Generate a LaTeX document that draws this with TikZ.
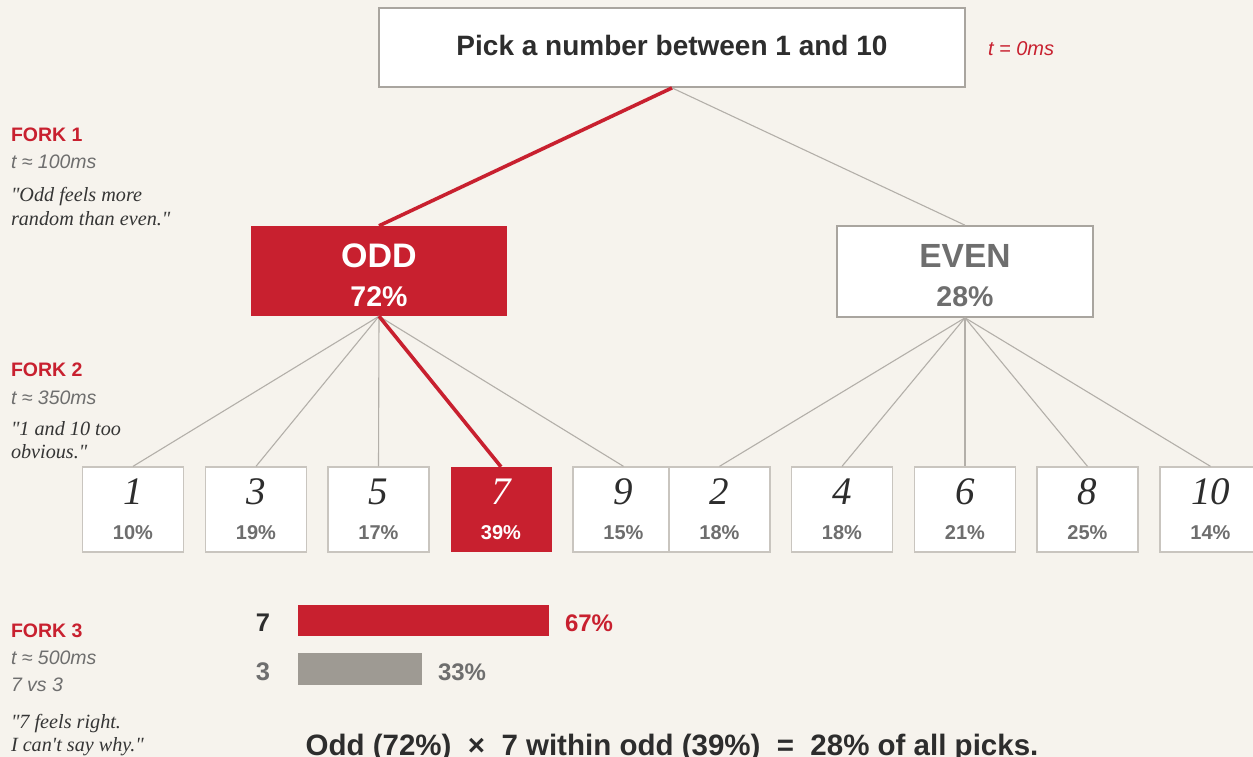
\documentclass[tikz,border=0pt]{standalone}
\usepackage{fontspec}
\setmainfont{Liberation Sans}
\newfontfamily\tnr{Liberation Serif}
\definecolor{bg}{HTML}{F6F3ED}
\definecolor{brand}{HTML}{C8202F}
\definecolor{boxline}{HTML}{A9A59F}
\definecolor{leafline}{HTML}{C9C5BF}
\definecolor{conn}{HTML}{B3AFA9}
\definecolor{graytxt}{HTML}{6E6E6E}
\definecolor{darktxt}{HTML}{2D2D2D}
\definecolor{quotetxt}{HTML}{353535}
\definecolor{bargray}{HTML}{9E9A93}
\newcommand{\fs}[1]{\fontsize{#1}{#1}\selectfont}
\begin{document}
\begin{tikzpicture}[x=1pt,y=-1pt,
  txt/.style={inner sep=0pt, outer sep=0pt, anchor=base},
  ltxt/.style={inner sep=0pt, outer sep=0pt, anchor=base west},
  forklbl/.style={ltxt, text=brand, font=\fs{19.5}\bfseries},
  timelbl/.style={ltxt, text=graytxt, font=\fs{19.5}\itshape},
  quotelbl/.style={ltxt, text=quotetxt, font=\tnr\fs{20.2}\itshape},
  leaf/.style={draw=leafline, line width=1.3pt, fill=white, minimum width=101pt, minimum height=85pt, inner sep=0pt},
  leafred/.style={fill=brand, draw=none, minimum width=101pt, minimum height=85pt, inner sep=0pt},
  digit/.style={txt, font=\tnr\fs{39}\itshape, text=darktxt},
  pct/.style={txt, font=\fs{20}\bfseries, text=graytxt},
  graylink/.style={draw=conn, line width=1.1pt},
  redlink/.style={draw=brand, line width=3.6pt},
]
\useasboundingbox (0,0) rectangle (1253,757);
\fill[bg] (0,0) rectangle (1253,757);

% top box
\node[draw=boxline, line width=1.8pt, fill=white, minimum width=586pt, minimum height=79pt, inner sep=0pt] (top) at (672,47.5) {};
\node[txt, font=\fs{28}\bfseries, text=darktxt] (toptxt) at (672,56) {Pick a number between 1 and 10};
\node[ltxt, font=\fs{20}\itshape, text=brand] (t0) at (988,56) {t = 0ms};

% odd / even
\node[fill=brand, minimum width=256pt, minimum height=90pt, inner sep=0pt] (odd) at (379,271) {};
\node[txt, font=\fs{34}\bfseries, text=white] (oddtxt) at (379,267.7) {ODD};
\node[txt, font=\fs{28.5}\bfseries, text=white] (oddpct) at (379,306.7) {72\%};
\node[draw=boxline, line width=1.6pt, fill=white, minimum width=256pt, minimum height=91pt, inner sep=0pt] (even) at (965,271.5) {};
\node[txt, font=\fs{33.5}\bfseries, text=graytxt] (eventxt) at (965,267.7) {EVEN};
\node[txt, font=\fs{28.5}\bfseries, text=graytxt] (evenpct) at (965,306.7) {28\%};

% leaves
\node[leaf] (l1) at (133,509.5) {};
\node[leaf] (l3) at (256,509.5) {};
\node[leaf] (l5) at (378.5,509.5) {};
\node[leafred] (l7) at (501,509.5) {};
\node[leaf] (l9) at (623.5,509.5) {};
\node[leaf] (l2) at (719.5,509.5) {};
\node[leaf] (l4) at (842,509.5) {};
\node[leaf] (l6) at (965,509.5) {};
\node[leaf] (l8) at (1087.5,509.5) {};
\node[leaf] (l10) at (1210.5,509.5) {};

\foreach \n/\x/\p in {1/133/10,3/256/19,5/378.5/17,9/623.5/15,2/719.5/18,4/842/18,6/965/21,8/1087.5/25,10/1210.5/14}{
  \node[digit] (d\n) at (\x,504.3) {\n};
  \node[pct] (p\n) at (\x,539.3) {\p\%};
}
\node[digit, text=white] (d7) at (501,504.3) {7};
\node[pct, text=white] (p7) at (501,539.3) {39\%};

% connectors
\draw[graylink] (top.south) -- (even.north);
\draw[redlink] (top.south) -- (odd.north);
\foreach \t in {l1,l3,l5,l9}{ \draw[graylink] (odd.south) -- (\t.north); }
\draw[redlink] (odd.south) -- (l7.north);
\foreach \t in {l2,l4,l6,l8,l10}{ \draw[graylink] (even.south) -- (\t.north); }

% bars
\node[fill=brand, minimum width=251pt, minimum height=31pt, inner sep=0pt, anchor=north west] (bar7) at (298,605) {};
\node[fill=bargray, minimum width=124pt, minimum height=32pt, inner sep=0pt, anchor=north west] (bar3) at (298,653) {};
\node[txt, font=\fs{25.5}\bfseries, text=darktxt] (b7lbl) at (263,631.7) {7};
\node[txt, font=\fs{25.5}\bfseries, text=graytxt] (b3lbl) at (263,680) {3};
\node[ltxt, font=\fs{24}\bfseries, text=brand] (b7pct) at (565,631.7) {67\%};
\node[ltxt, font=\fs{24}\bfseries, text=graytxt] (b3pct) at (438,680) {33\%};

% left annotations
\node[forklbl] (f1) at (11,141.5) {FORK 1};
\node[timelbl] (f1t) at (11,168) {t ≈ 100ms};
\node[quotelbl] (f1q1) at (11,201.5) {"Odd feels more};
\node[quotelbl] (f1q2) at (11,225) {random than even."};

\node[forklbl] (f2) at (11,376) {FORK 2};
\node[timelbl] (f2t) at (11,404) {t ≈ 350ms};
\node[quotelbl] (f2q1) at (11,435) {"1 and 10 too};
\node[quotelbl] (f2q2) at (11,458.5) {obvious."};

\node[forklbl] (f3) at (11,637) {FORK 3};
\node[timelbl] (f3t) at (11,664) {t ≈ 500ms};
\node[timelbl] (f3v) at (11,691.5) {7 vs 3};
\node[quotelbl] (f3q1) at (11,728) {"7 feels right.};
\node[quotelbl] (f3q2) at (11,751.7) {I can't say why."};

% bottom formula
\node[txt, font=\fs{29.5}\bfseries, text=darktxt] (formula) at (672,755) {Odd (72\%)\ \ ×\ \ 7 within odd (39\%)\ \ =\ \ 28\% of all picks.};
\end{tikzpicture}
\end{document}
